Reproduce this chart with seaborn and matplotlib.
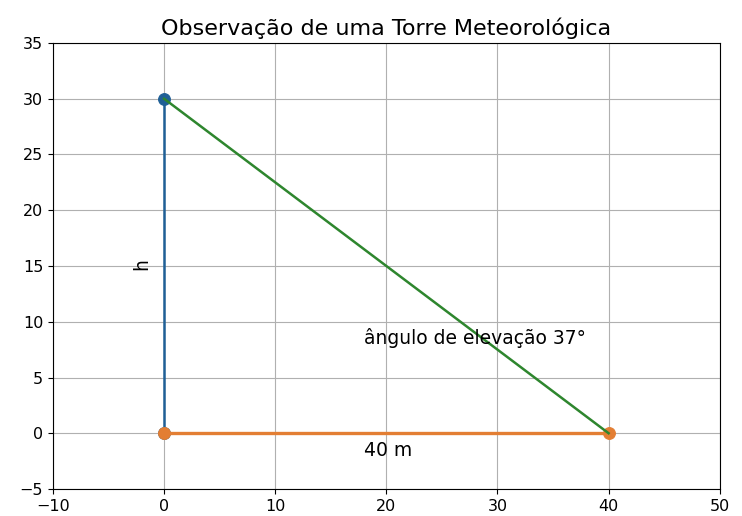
import matplotlib
matplotlib.use("Agg")
import matplotlib.pyplot as plt
import seaborn as sns

# tower, ground distance and line of sight
torre_x = [0, 0]
torre_y = [0, 30]
base_x = [0, 40]
base_y = [0, 0]
visada_x = [0, 40]
visada_y = [30, 0]

azul = '#1f5f96'
laranja = '#e37e33'
verde = '#2e862e'

fig, ax = plt.subplots(figsize=(7.42, 5.16), dpi=100)
fig.subplots_adjust(left=0.0714, right=0.970, top=0.9167, bottom=0.0523)

sns.lineplot(x=torre_x, y=torre_y, marker='o', markersize=8.5, markeredgecolor=azul,
             color=azul, sort=False, estimator=None, ax=ax, linewidth=1.8)
sns.lineplot(x=base_x, y=base_y, marker='o', markersize=8.5, markeredgecolor=laranja,
             color=laranja, sort=False, estimator=None, ax=ax, linewidth=2.4)
sns.lineplot(x=visada_x, y=visada_y, color=verde, sort=False, estimator=None, ax=ax,
             linewidth=1.8)

ax.text(-2.9, 15, 'h', rotation=90, fontsize=13.5)
ax.text(18, -2, '40 m', fontsize=13.5)
ax.text(18, 8, 'ângulo de elevação 37°', fontsize=13.5)

ax.set_xlim(-10, 50)
ax.set_ylim(-5, 35)
ax.set_title('Observação de uma Torre Meteorológica', fontsize=16)
ax.tick_params(labelsize=11.5)
ax.grid(True)

plt.savefig('out.png', dpi=100)
